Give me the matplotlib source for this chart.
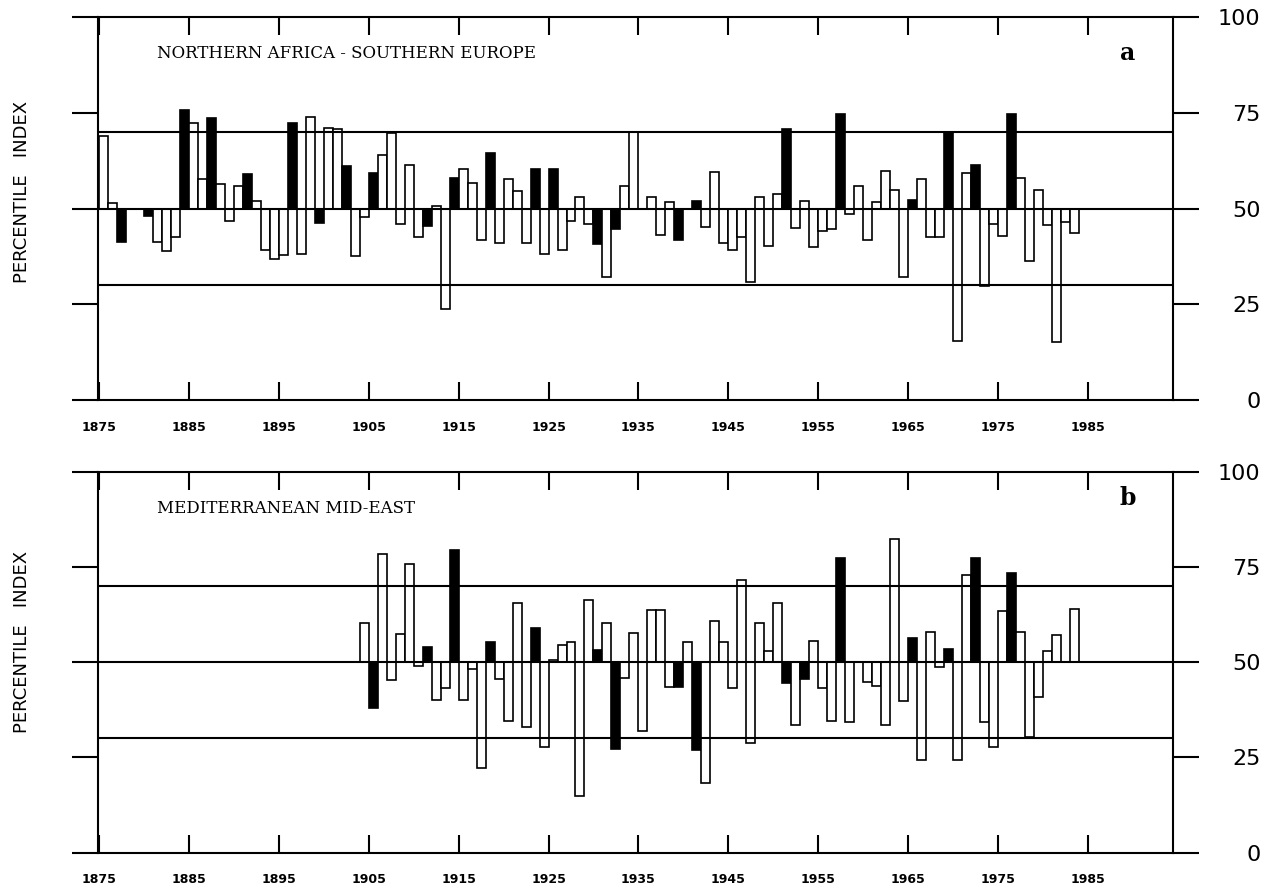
import numpy as np
import matplotlib
matplotlib.use("Agg")
import matplotlib.pyplot as plt

# panel a: Northern Africa - Southern Europe, 1875-1983
years_a = list(range(1875, 1984))
values_a = [69, 51.5, 41.3, 50, 50, 48, 41.3, 39, 42.5, 75.7,
            72.4, 57.6, 73.7, 56.3, 46.7, 55.9, 59, 52, 39.3, 36.7,
            37.8, 72.4, 38.1, 74, 46.1, 71.1, 70.9, 61.1, 37.6, 47.9,
            59.2, 64, 69.6, 46, 61.4, 42.5, 45.5, 50.7, 23.9, 58,
            60.2, 56.6, 41.9, 64.6, 41.1, 57.6, 54.7, 41.1, 60.3, 38.1,
            60.4, 39.2, 46.8, 53.1, 46, 40.7, 32, 44.6, 55.9, 70.1,
            50, 52.9, 43.1, 51.6, 41.9, 50, 52.1, 45.3, 59.6, 40.9,
            39.3, 42.5, 30.9, 52.9, 40.2, 53.8, 70.7, 44.8, 52, 39.9,
            44.2, 44.6, 74.6, 48.6, 55.9, 41.9, 51.8, 59.8, 54.8, 32,
            52.2, 57.6, 42.5, 42.5, 69.6, 15.5, 59.3, 61.5, 29.8, 46,
            42.8, 74.6, 57.9, 36.4, 54.8, 45.7, 15.2, 46.6, 43.5]
black_a = [1877, 1880, 1884, 1887, 1891, 1896, 1899, 1902, 1905, 1911,
           1914, 1918, 1923, 1925, 1930, 1932, 1939, 1941, 1951, 1957,
           1965, 1969, 1972, 1976]

# panel b: Mediterranean Mid-East, 1904-1983
years_b = list(range(1904, 1984))
values_b = [60.4, 37.9, 78.4, 45.3, 57.4, 75.8, 49, 53.9, 40.1, 43.1,
            79.3, 40.1, 48.3, 22.1, 55.4, 45.5, 34.6, 65.6, 32.9, 58.9,
            27.8, 50.5, 54.5, 55.4, 14.9, 66.3, 53.2, 60.2, 27.1, 45.8,
            57.7, 31.8, 63.7, 63.7, 43.4, 43.4, 55.2, 27, 18.2, 60.8,
            55.2, 43.1, 71.6, 28.7, 60.2, 52.8, 65.6, 44.5, 33.5, 45.5,
            55.6, 43.1, 34.6, 77.3, 34.4, 50, 44.9, 43.8, 33.5, 82.3,
            39.9, 56.3, 24.3, 57.8, 48.7, 53.4, 24.3, 72.9, 77.3, 34.4,
            27.8, 63.3, 73.3, 57.8, 30.4, 40.8, 52.8, 57, 50, 63.9]
black_b = [1905, 1911, 1914, 1918, 1923, 1930, 1932, 1939, 1941, 1951,
           1953, 1957, 1965, 1969, 1972, 1976]

decades = list(range(1875, 1986, 10))
pct_ticks = [0, 25, 50, 75, 100]

fig = plt.figure(figsize=(12.74, 8.88), dpi=100)


def panel(rect, years, values, black, title, letter, letter_y):
    ax = fig.add_axes(rect)
    heights = np.array(values) - 50
    colors = ['black' if y in black else 'white' for y in years]
    ax.bar(years, heights, width=1, bottom=50, align='edge', color=colors,
           edgecolor='black', linewidth=1.2, zorder=2)
    for level in (30, 50, 70):
        ax.axhline(level, color='black', lw=1.5, zorder=3)

    ax.set_xlim(1874.85, 1994.5)
    ax.set_ylim(0, 100)
    for sp in ax.spines.values():
        sp.set_linewidth(1.5)

    ax.set_xticks(decades)
    ax.set_xticklabels([str(d) for d in decades], fontsize=9, fontweight='bold')
    ax.tick_params(axis='x', direction='in', top=True, bottom=True,
                   length=13, width=1.5, pad=15)

    ax.set_yticks(pct_ticks)
    ax.set_yticklabels([str(p) for p in pct_ticks], fontsize=16)
    ax.tick_params(axis='y', direction='out', left=True, right=True,
                   labelleft=False, labelright=True, length=19, width=1.5, pad=44)
    for lab in ax.get_yticklabels():
        lab.set_horizontalalignment('right')

    ax.text(0.0546, 0.892, title, transform=ax.transAxes, family='DejaVu Serif',
            fontsize=12, va='baseline', ha='left')
    ax.text(0.958, letter_y, letter, transform=ax.transAxes, family='DejaVu Serif',
            fontsize=17, fontweight='bold', va='baseline', ha='center')
    return ax


ax_a = panel([0.0769, 0.5495, 0.8438, 0.4313], years_a, values_a, black_a,
             'NORTHERN AFRICA - SOUTHERN EUROPE', 'a', 0.888)
ax_b = panel([0.0769, 0.0398, 0.8438, 0.4291], years_b, values_b, black_b,
             'MEDITERRANEAN MID-EAST', 'b', 0.913)

fig.text(22 / 1274, 1 - 192 / 888, 'PERCENTILE   INDEX', rotation=90,
         fontsize=13, ha='center', va='center')
fig.text(22 / 1274, 1 - 642 / 888, 'PERCENTILE   INDEX', rotation=90,
         fontsize=13, ha='center', va='center')

fig.savefig('out.png', dpi=100)
